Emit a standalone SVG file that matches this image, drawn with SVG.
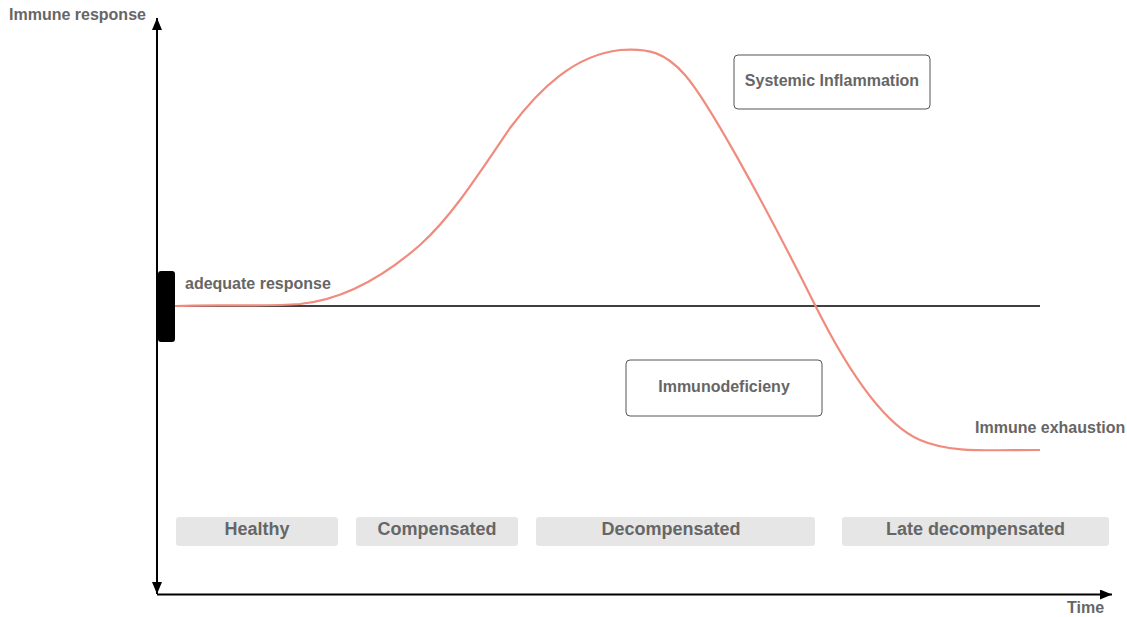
<svg xmlns="http://www.w3.org/2000/svg" width="1127" height="617" viewBox="0 0 1127 617">
<style>
.lbl{font-family:"Liberation Sans",Arial,sans-serif;font-weight:bold;fill:#666;font-size:16px}
.stg{font-family:"Liberation Sans",Arial,sans-serif;font-weight:bold;fill:#666;font-size:18px;text-anchor:middle}
.box{fill:#fff;stroke:#555;stroke-width:1}
.stage{fill:#e6e6e6}
.axis{stroke:#000;stroke-width:2;fill:none}
.curve{stroke:#f08b7d;stroke-width:2.2;fill:none}
</style>
<defs>
<marker id="ah" viewBox="0 0 12 10" refX="12" refY="5" markerWidth="12" markerHeight="10" markerUnits="userSpaceOnUse" orient="auto">
<path d="M0,0 L12,5 L0,10 Z" fill="#000"/>
</marker>
</defs>
<rect width="1127" height="617" fill="#fff"/>
<g id="connectors">
<line class="axis" x1="157" y1="300" x2="157" y2="18" marker-end="url(#ah)"/>
<line class="axis" x1="157" y1="300" x2="157" y2="594" marker-end="url(#ah)"/>
<line class="axis" x1="157" y1="594.5" x2="1112" y2="594.5" marker-end="url(#ah)"/>
<line x1="175" y1="306" x2="1040" y2="306" stroke="#000" stroke-width="1.5"/>
<path class="curve" d="M175,306 C220,304 260,307 300,304 C340,300 380,280 420,245 C450,218 475,180 510,128 C540,88 575,55 620,50 C648,48 665,52 685,75 C707,100 760,195 815,305 C850,375 885,425 920,440 C950,453 985,450 1040,450"/>
</g>
<g id="marker-bar"><rect x="158" y="271" width="17" height="71" rx="3" fill="#000"/></g>
<g id="y-label"><text class="lbl" x="9" y="20">Immune response</text></g>
<g id="x-label"><text class="lbl" x="1067" y="613">Time</text></g>
<g id="adequate"><text class="lbl" x="185" y="289">adequate response</text></g>
<g id="exhaustion"><text class="lbl" x="975" y="433">Immune exhaustion</text></g>
<g id="systemic">
<rect class="box" x="734" y="55" width="196" height="54" rx="4"/>
<text class="lbl" x="832" y="86" text-anchor="middle">Systemic Inflammation</text>
</g>
<g id="immunodef">
<rect class="box" x="626" y="360" width="196" height="56" rx="4"/>
<text class="lbl" x="724" y="392" text-anchor="middle">Immunodeficieny</text>
</g>
<g id="healthy"><rect class="stage" x="176" y="517" width="162" height="29" rx="3"/><text class="stg" x="257" y="535">Healthy</text></g>
<g id="compensated"><rect class="stage" x="356" y="517" width="162" height="29" rx="3"/><text class="stg" x="437" y="535">Compensated</text></g>
<g id="decompensated"><rect class="stage" x="536" y="517" width="279" height="29" rx="3"/><text class="stg" x="671" y="535">Decompensated</text></g>
<g id="late"><rect class="stage" x="842" y="517" width="267" height="29" rx="3"/><text class="stg" x="975.5" y="535">Late decompensated</text></g>
</svg>
